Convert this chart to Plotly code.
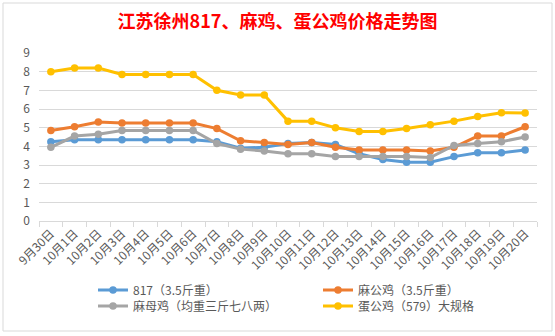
import plotly.graph_objects as go

categories = ["9月30日"] + [f"10月{d}日" for d in range(1, 21)]

s817 = [4.25, 4.35, 4.35, 4.35, 4.35, 4.35, 4.35, 4.25, 3.9, 3.95, 4.15, 4.2, 4.1, 3.6, 3.3, 3.15, 3.15, 3.45, 3.65, 3.65, 3.8]
s_magong = [4.85, 5.05, 5.3, 5.25, 5.25, 5.25, 5.25, 4.95, 4.3, 4.2, 4.1, 4.2, 3.95, 3.8, 3.8, 3.8, 3.75, 3.95, 4.55, 4.55, 5.05]
s_mamu = [3.95, 4.55, 4.65, 4.85, 4.85, 4.85, 4.85, 4.15, 3.85, 3.75, 3.6, 3.6, 3.45, 3.45, 3.45, 3.45, 3.4, 4.05, 4.15, 4.25, 4.5]
s_dangong = [8.0, 8.2, 8.2, 7.85, 7.85, 7.85, 7.85, 7.0, 6.75, 6.75, 5.35, 5.35, 5.0, 4.8, 4.8, 4.95, 5.15, 5.35, 5.6, 5.8, 5.78]

names = ["817（3.5斤重）", "麻公鸡（3.5斤重）", "麻母鸡（均重三斤七八两）", "蛋公鸡（579）大规格"]
colors = ["#5B9BD5", "#ED7D31", "#A5A5A5", "#FFC000"]
series = [s817, s_magong, s_mamu, s_dangong]
legends = ["legend", "legend", "legend2", "legend2"]

FONT = "Noto Sans CJK SC, Noto Sans, sans-serif"

fig = go.Figure()
for name, col, vals, lg in zip(names, colors, series, legends):
    fig.add_trace(go.Scatter(
        x=categories, y=vals, name=name, mode="lines+markers",
        line=dict(color=col, width=3),
        marker=dict(color=col, size=7.5),
        legend=lg,
    ))

W, H = 555, 336
L, R, T, B = 39, 18, 53, 115
pw, ph = W - L - R, H - T - B

def px_x(p):
    return (p - L) / pw

def px_y(p):
    return 1 - (p - T) / ph

fig.update_layout(
    width=W, height=H,
    margin=dict(l=L, r=R, t=T, b=B),
    paper_bgcolor="white", plot_bgcolor="white",
    font=dict(family=FONT, color="#595959", size=12),
    title=dict(text="<b>江苏徐州817、麻鸡、蛋公鸡价格走势图</b>",
               font=dict(family=FONT, size=18, color="#FF0000"),
               x=0.5, xanchor="center", y=1 - 22 / H, yanchor="middle"),
    xaxis=dict(type="category", tickangle=-45, tickfont=dict(size=12, color="#595959"),
               showgrid=False, showline=True, linecolor="#D9D9D9", linewidth=1,
               ticks="outside", ticklen=5, tickcolor="#D9D9D9", tickson="boundaries",
               range=[-0.5, len(categories) - 0.5]),
    yaxis=dict(range=[0, 9], dtick=1, showgrid=True, gridcolor="#D9D9D9", gridwidth=1,
               zeroline=False, showline=False, tickfont=dict(size=12, color="#595959"),
               ticklabelstandoff=8),
    legend=dict(orientation="h", x=px_x(93), xanchor="left", y=px_y(290), yanchor="middle",
                entrywidth=180, itemwidth=30, font=dict(size=12, color="#595959"),
                bgcolor="rgba(0,0,0,0)", tracegroupgap=0),
    legend2=dict(orientation="h", x=px_x(93), xanchor="left", y=px_y(306), yanchor="middle",
                 entrywidth=180, itemwidth=30, font=dict(size=12, color="#595959"),
                 bgcolor="rgba(0,0,0,0)", tracegroupgap=0),
    shapes=[dict(type="rect", xref="paper", yref="paper",
                 x0=px_x(3), x1=px_x(552), y0=px_y(331), y1=px_y(3),
                 line=dict(color="#D9D9D9", width=1), layer="below")],
    showlegend=True,
)

fig.write_html("out.html")
